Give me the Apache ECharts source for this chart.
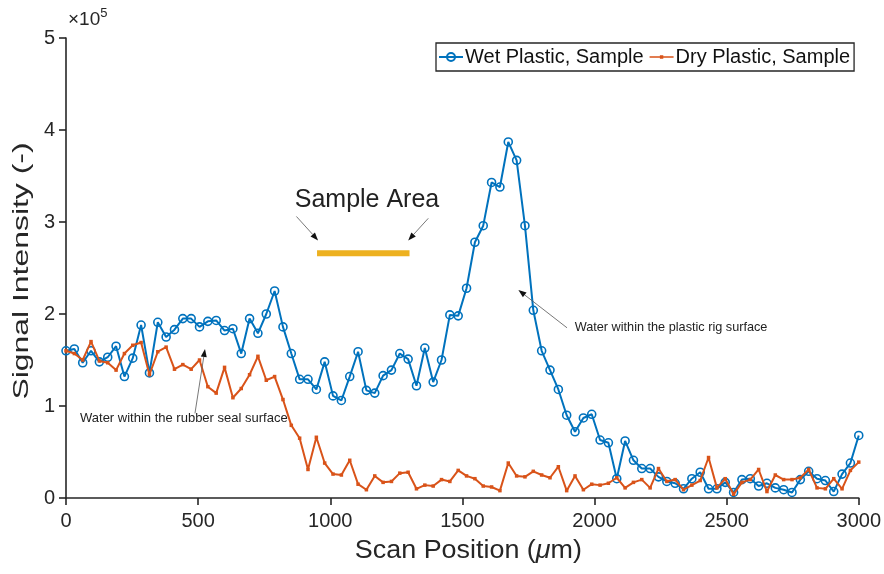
<!DOCTYPE html>
<html>
<head>
<meta charset="utf-8">
<script src="https://cdn.jsdelivr.net/npm/echarts@6/dist/echarts.min.js"></script>
<style>
  html, body { margin: 0; padding: 0; background: #fff; }
  #chart { width: 884px; height: 574px; }
</style>
</head>
<body>
<div id="chart"></div>
<script>
// scan positions (um), shared by both scans
const scanPos = [
  0, 31.6, 63.2, 94.7, 126.3, 157.9, 189.5, 221.1, 252.6, 284.2,
  315.8, 347.4, 378.9, 410.5, 442.1, 473.7, 505.3, 536.8, 568.4, 600,
  631.6, 663.2, 694.7, 726.3, 757.9, 789.5, 821.1, 852.6, 884.2, 915.8,
  947.4, 978.9, 1010.5, 1042.1, 1073.7, 1105.3, 1136.8, 1168.4, 1200, 1231.6,
  1263.2, 1294.7, 1326.3, 1357.9, 1389.5, 1421.1, 1452.6, 1484.2, 1515.8, 1547.4,
  1578.9, 1610.5, 1642.1, 1673.7, 1705.3, 1736.8, 1768.4, 1800, 1831.6, 1863.2,
  1894.7, 1926.3, 1957.9, 1989.5, 2021.1, 2052.6, 2084.2, 2115.8, 2147.4, 2178.9,
  2210.5, 2242.1, 2273.7, 2305.3, 2336.8, 2368.4, 2400, 2431.6, 2463.2, 2494.7,
  2526.3, 2557.9, 2589.5, 2621.1, 2652.6, 2684.2, 2715.8, 2747.4, 2778.9, 2810.5,
  2842.1, 2873.7, 2905.3, 2936.8, 2968.4, 3000
];

// signal intensity, in units of 1e5
const wetPlastic = [
  1.60, 1.62, 1.47, 1.60, 1.48, 1.53, 1.65, 1.32, 1.52, 1.88,
  1.36, 1.91, 1.75, 1.83, 1.95, 1.95, 1.86, 1.92, 1.93, 1.82,
  1.84, 1.57, 1.95, 1.79, 2.00, 2.25, 1.86, 1.57, 1.29, 1.29,
  1.18, 1.48, 1.11, 1.06, 1.32, 1.59, 1.17, 1.14, 1.33, 1.39,
  1.57, 1.51, 1.22, 1.63, 1.26, 1.50, 1.99, 1.98, 2.28, 2.78,
  2.96, 3.43, 3.38, 3.87, 3.67, 2.96, 2.04, 1.60, 1.39, 1.18,
  0.90, 0.72, 0.87, 0.91, 0.63, 0.60, 0.21, 0.62, 0.41, 0.32,
  0.32, 0.23, 0.18, 0.16, 0.10, 0.21, 0.28, 0.10, 0.10, 0.17,
  0.06, 0.20, 0.21, 0.13, 0.16, 0.11, 0.09, 0.06, 0.20, 0.29,
  0.21, 0.19, 0.07, 0.26, 0.38, 0.68
];

const dryPlastic = [
  1.60, 1.57, 1.50, 1.70, 1.49, 1.47, 1.39, 1.57, 1.66, 1.69,
  1.34, 1.59, 1.64, 1.40, 1.45, 1.40, 1.50, 1.21, 1.14, 1.42,
  1.09, 1.19, 1.34, 1.54, 1.28, 1.32, 1.07, 0.79, 0.65, 0.31,
  0.66, 0.38, 0.26, 0.25, 0.41, 0.15, 0.09, 0.24, 0.17, 0.18,
  0.27, 0.28, 0.10, 0.14, 0.13, 0.20, 0.18, 0.30, 0.24, 0.21,
  0.13, 0.12, 0.08, 0.38, 0.24, 0.23, 0.29, 0.25, 0.22, 0.34,
  0.08, 0.24, 0.09, 0.15, 0.14, 0.16, 0.22, 0.11, 0.17, 0.20,
  0.11, 0.32, 0.18, 0.20, 0.09, 0.14, 0.19, 0.44, 0.11, 0.21,
  0.04, 0.17, 0.20, 0.31, 0.07, 0.25, 0.20, 0.20, 0.22, 0.31,
  0.11, 0.10, 0.21, 0.10, 0.30, 0.39
];

const xTicks = [0, 500, 1000, 1500, 2000, 2500, 3000];
const yTicks = [0, 1, 2, 3, 4, 5];

// sample area bar (data units)
const sampleAreaX = [950, 1300];
const sampleAreaY = [2.66, 2.66];

// annotation texts and arrows, anchored in data units
const notes = [
  { text: 'Sample Area', at: [1139, 3.24], size: 25, align: 'center' },
  { text: 'Water within the rubber seal surface', at: [53, 0.87], size: 13, align: 'left' },
  { text: 'Water within the plastic rig surface', at: [1925, 1.85], size: 12.7, align: 'left' }
];
const arrows = [
  { from: [872, 3.06], to: [954, 2.80] },
  { from: [1371, 3.04], to: [1295, 2.80] },
  { from: [488, 0.92], to: [526, 1.62] },
  { from: [1896, 1.85], to: [1712, 2.26] }
];

const FONT = '"Liberation Sans", Arial, Helvetica, sans-serif';
const AXIS = '#262626';
const BLUE = '#0072BD';
const ORANGE = '#D95319';

const chart = echarts.init(document.getElementById('chart'));

const axisCommon = {
  axisLine: { show: true, onZero: false, lineStyle: { color: AXIS, width: 1.6 } },
  axisTick: { show: true, inside: false, length: 7, lineStyle: { color: AXIS, width: 1.6 } },
  splitLine: { show: false },
  axisLabel: { color: AXIS, fontFamily: FONT, fontSize: 20, formatter: v => String(v) }
};

chart.setOption({
  animation: false,
  backgroundColor: '#fff',
  grid: { left: 66, right: 25, top: 38, bottom: 76 },
  legend: {
    data: [
      { name: 'Wet Plastic, Sample' },
      { name: 'Dry Plastic, Sample', icon: 'path://M0,4.2H24V5.8H0Z M10.3,3.2H13.7V6.8H10.3Z' }
    ],
    left: 436,
    top: 43,
    padding: [4, 4, 4, 2],
    itemGap: 6,
    itemWidth: 24,
    itemHeight: 10,
    symbolKeepAspect: true,
    borderColor: AXIS,
    borderWidth: 1.3,
    backgroundColor: '#fff',
    textStyle: { color: '#111', fontFamily: FONT, fontSize: 20, padding: [0, 0, 0, -3] }
  },
  xAxis: Object.assign({}, axisCommon, {
    type: 'value',
    min: xTicks[0],
    max: xTicks[xTicks.length - 1],
    interval: xTicks[1] - xTicks[0],
    axisLabel: Object.assign({}, axisCommon.axisLabel, { margin: 13 })
  }),
  yAxis: Object.assign({}, axisCommon, {
    type: 'value',
    min: yTicks[0],
    max: yTicks[yTicks.length - 1],
    interval: yTicks[1] - yTicks[0],
    axisLabel: Object.assign({}, axisCommon.axisLabel, { margin: 11 })
  }),
  series: [
    {
      name: 'Sample Area',
      type: 'line',
      data: sampleAreaX.map((x, i) => [x, sampleAreaY[i]]),
      symbol: 'none',
      lineStyle: { color: '#EDB120', width: 6, cap: 'butt' },
      silent: true,
      z: 1
    },
    {
      name: 'Wet Plastic, Sample',
      type: 'line',
      data: scanPos.map((x, i) => [x, wetPlastic[i]]),
      symbol: 'circle',
      symbolSize: 8,
      showAllSymbol: true,
      color: BLUE,
      lineStyle: { color: BLUE, width: 2 },
      itemStyle: { color: 'rgba(255,255,255,0)', borderColor: BLUE, borderWidth: 1.6 },
      z: 3
    },
    {
      name: 'Dry Plastic, Sample',
      type: 'line',
      data: scanPos.map((x, i) => [x, dryPlastic[i]]),
      symbol: 'rect',
      symbolSize: 3.5,
      showAllSymbol: true,
      color: ORANGE,
      lineStyle: { color: ORANGE, width: 2 },
      itemStyle: { color: ORANGE },
      z: 4
    }
  ]
});

// annotations drawn in pixels converted from data units
const toPx = p => chart.convertToPixel({ gridIndex: 0 }, p);

function arrowGraphic(a) {
  const p0 = toPx(a.from);
  const p1 = toPx(a.to);
  const ang = Math.atan2(p1[1] - p0[1], p1[0] - p0[0]);
  const len = 8, half = 3;
  const bx = p1[0] - len * Math.cos(ang), by = p1[1] - len * Math.sin(ang);
  const nx = -Math.sin(ang) * half, ny = Math.cos(ang) * half;
  return [
    {
      type: 'line',
      shape: { x1: p0[0], y1: p0[1], x2: bx, y2: by },
      style: { stroke: '#555', lineWidth: 0.8 },
      z: 10
    },
    {
      type: 'polygon',
      shape: { points: [p1, [bx + nx, by + ny], [bx - nx, by - ny]] },
      style: { fill: '#111' },
      z: 10
    }
  ];
}

const graphics = [];
notes.forEach(n => {
  const p = toPx(n.at);
  graphics.push({
    type: 'text',
    x: p[0],
    y: p[1],
    z: 10,
    style: {
      text: n.text,
      fontFamily: FONT,
      fontSize: n.size,
      fill: '#222',
      align: n.align,
      verticalAlign: 'middle'
    }
  });
});
arrows.forEach(a => graphics.push(...arrowGraphic(a)));

// axis titles, stretched like the source figure
const origin = toPx([0, 0]);
const corner = toPx([3000, 5]);
const midX = (origin[0] + corner[0]) / 2;
const midY = (origin[1] + corner[1]) / 2;
graphics.push({
  type: 'text',
  x: midX + 6,
  y: origin[1] + 53,
  scaleX: 1.17,
  scaleY: 1.15,
  z: 10,
  style: {
    text: '{a|Scan Position (}{i|μ}{a|m)}',
    align: 'center',
    verticalAlign: 'middle',
    rich: {
      a: { fontFamily: FONT, fontSize: 23, fill: AXIS },
      i: { fontFamily: FONT, fontSize: 23, fill: AXIS, fontStyle: 'italic' }
    }
  }
});
graphics.push({
  type: 'text',
  x: 22,
  y: midY + 3,
  rotation: Math.PI / 2,
  scaleX: 1.45,
  z: 10,
  style: {
    text: 'Signal Intensity (-)',
    fontFamily: FONT,
    fontSize: 22,
    fill: AXIS,
    align: 'center',
    verticalAlign: 'middle'
  }
});

// axis exponent label
const yTop = toPx([0, 5]);
graphics.push({
  type: 'text',
  x: yTop[0] + 2,
  y: yTop[1] - 6,
  z: 10,
  style: {
    text: '{m|×10}{s|5}',
    verticalAlign: 'bottom',
    rich: {
      m: { fontFamily: FONT, fontSize: 19, fill: AXIS },
      s: { fontFamily: FONT, fontSize: 13, fill: AXIS, verticalAlign: 'top', padding: [0, 0, 12, 0] }
    }
  }
});

chart.setOption({ graphic: graphics });
</script>
</body>
</html>
